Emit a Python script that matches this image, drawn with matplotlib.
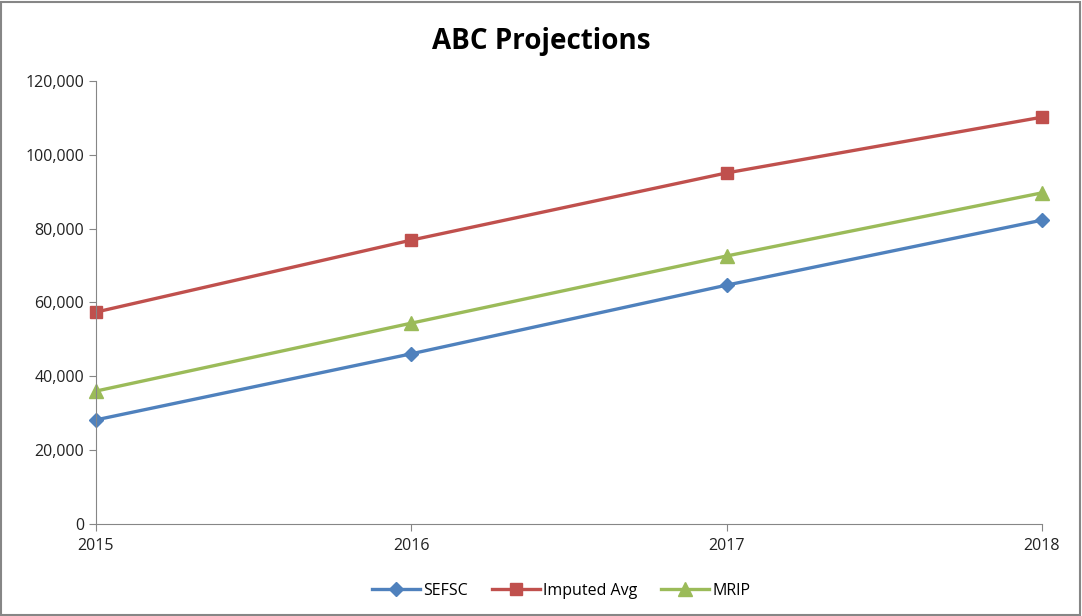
from matplotlib import pyplot as plt
from matplotlib.ticker import FuncFormatter

years = [2015, 2016, 2017, 2018]
sefsc = [28200, 46100, 64700, 82300]
imputed_avg = [57400, 76900, 95100, 110200]
mrip = [36000, 54400, 72600, 89700]

plt.rcParams['font.family'] = ['Open Sans', 'DejaVu Sans']

fig = plt.figure(figsize = (10.82, 6.16), dpi = 100)
ax = fig.add_axes([0.0887, 0.1494, 0.8743, 0.7191])

ax.plot(years, sefsc, color = "#4F81BD", lw = 2.4, marker = "D", ms = 7.5, label = "SEFSC", clip_on = False)
ax.plot(years, imputed_avg, color = "#C0504D", lw = 2.4, marker = "s", ms = 8.5, label = "Imputed Avg", clip_on = False)
ax.plot(years, mrip, color = "#9BBB59", lw = 2.4, marker = "^", ms = 9.5, label = "MRIP", clip_on = False)

ax.set_xlim(2015, 2018)
ax.set_ylim(0, 120000)
ax.set_xticks(years)
ax.set_yticks(range(0, 120001, 20000))
ax.yaxis.set_major_formatter(FuncFormatter(lambda v, p: f"{int(v):,}"))
ax.tick_params(labelsize = 11.5, color = "#868686", length = 5, colors = "#868686", labelcolor = "#222222")
ax.tick_params(axis = "x", pad = 5)

for side in ("top", "right"):
  ax.spines[side].set_visible(False)
for side in ("left", "bottom"):
  ax.spines[side].set_color("#868686")

fig.text(0.5, 0.933, "ABC Projections", fontsize = 20, fontweight = "bold", ha = "center", va = "center")

ax.legend(loc = "upper center", bbox_to_anchor = (0.492, -0.1), ncol = 3,
  frameon = False, fontsize = 11.5, handlelength = 3, columnspacing = 1.5, handletextpad = 0.2,
)

fig.patches.append(plt.Rectangle((0.001, 0.002), 0.997, 0.995, transform = fig.transFigure,
  fill = False, edgecolor = "#868686", lw = 1.5))

fig.savefig("out.png", dpi = 100)
